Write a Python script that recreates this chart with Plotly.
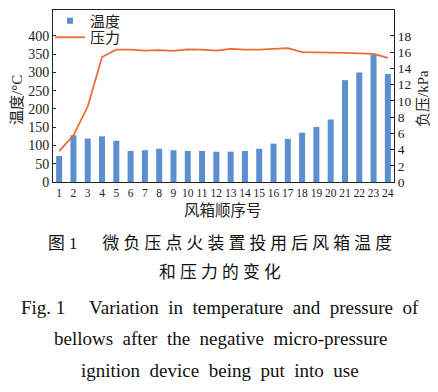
import plotly.graph_objects as go

box_no = list(range(1, 25))
temperature = [71, 128, 119, 125, 113, 85, 87, 91, 87, 85, 85, 83,
               83, 85, 91, 105, 118, 135, 151, 171, 279, 300, 349, 296]
pressure = [3.8, 5.75, 9.3, 15.4, 16.3, 16.3, 16.2, 16.25, 16.15, 16.35, 16.3, 16.2,
            16.4, 16.3, 16.3, 16.4, 16.5, 16.0, 16.0, 15.95, 15.9, 15.85, 15.8, 15.3]
temp_ticks = list(range(0, 401, 50))
pres_ticks = list(range(0, 19, 2))

SERIF = "Liberation Serif, Times New Roman, Noto Sans CJK SC, serif"
CJK = "Liberation Serif, Noto Sans CJK SC, serif"
NB = "\u00a0"
BLUE = "#5B8FD0"
ORANGE = "#EC6A33"

# plot area in pixels
L, R, T, B = 53, 394, 10, 182
W, H = 438, 392
PW, PH = R - L, B - T


def px_x(x):
    return (x - L) / PW


def px_y(y):
    return (B - y) / PH


fig = go.Figure()
fig.add_trace(go.Bar(x=box_no, y=temperature, name="温度", width=0.42,
                     marker=dict(color=BLUE, line=dict(width=0)),
                     showlegend=False))
# legend entry for the bars (small square symbol as in the reference)
fig.add_trace(go.Scatter(x=[None], y=[None], name="温度", mode="markers",
                         marker=dict(symbol="square", size=6, color=BLUE),
                         legend="legend"))
fig.add_trace(go.Scatter(x=box_no, y=pressure, name="压力", mode="lines", yaxis="y2",
                         line=dict(color=ORANGE, width=1.8), legend="legend2"))

legend_common = dict(xanchor="left", yanchor="middle", bgcolor="rgba(0,0,0,0)",
                     font=dict(family=CJK, size=15, color="#222"), itemwidth=30)

fig.update_layout(
    width=W, height=H,
    margin=dict(l=L, r=W - R, t=T, b=H - B, autoexpand=False),
    paper_bgcolor="white", plot_bgcolor="white",
    font=dict(family=SERIF, color="#222", size=13),
    showlegend=True,
    legend=dict(x=px_x(50), y=px_y(21), **legend_common),
    legend2=dict(x=px_x(50), y=px_y(37.5), **legend_common),
    xaxis=dict(range=[0.57, 24.43], tickmode="array", tickvals=box_no,
               ticktext=[str(v) for v in box_no], tickfont=dict(size=11.5),
               showline=True, linecolor="#222", linewidth=1, mirror=True,
               ticks="", showgrid=False, zeroline=False, automargin=False),
    yaxis=dict(range=[0, 471], tickmode="array", tickvals=temp_ticks,
               showline=True, linecolor="#222", linewidth=1, mirror=False,
               ticks="inside", ticklen=3, tickcolor="#222",
               showgrid=False, zeroline=False, tickfont=dict(size=14), automargin=False),
    yaxis2=dict(range=[0, 471 * 18 / 400], overlaying="y", side="right",
                tickmode="array", tickvals=pres_ticks,
                showline=True, linecolor="#222", linewidth=1,
                ticks="inside", ticklen=4, tickcolor="#222",
                showgrid=False, zeroline=False, tickfont=dict(size=13.5), automargin=False),
)

# axis titles
fig.add_annotation(text="温度/°C", x=px_x(17), y=px_y(100), textangle=-90,
                   font=dict(family=CJK, size=15, color="#222"))
fig.add_annotation(text="负压/kPa", x=px_x(423), y=px_y(99), textangle=-90,
                   font=dict(family=CJK, size=15, color="#222"))
fig.add_annotation(text="风箱顺序号", x=px_x(223), y=px_y(210),
                   font=dict(family=CJK, size=15.5, color="#222"))


def spaced(s):
    return NB.join(list(s))


def words(s):
    return (NB * 2).join(s.split(" "))


captions = [
    ("图" + NB + "1" + NB * 6 + spaced("微负压点火装置投用后风箱温度"), 243, CJK, 16.8),
    (spaced("和压力的变化"), 272, CJK, 16.8),
    ("Fig." + NB + "1" + NB * 5 + words("Variation in temperature and pressure of"), 307, SERIF, 19),
    (words("bellows after the negative micro-pressure"), 338, SERIF, 19),
    (words("ignition device being put into use"), 370, SERIF, 19),
]
for text, ypx, fam, sz in captions:
    fig.add_annotation(text=text, x=px_x(220), y=px_y(ypx),
                       font=dict(family=fam, size=sz, color="#111"))

fig.update_annotations(xref="paper", yref="paper", showarrow=False,
                       xanchor="center", yanchor="middle")

fig.write_html("out.html", config={"displayModeBar": False},
               post_script="document.body.style.margin='0';")
